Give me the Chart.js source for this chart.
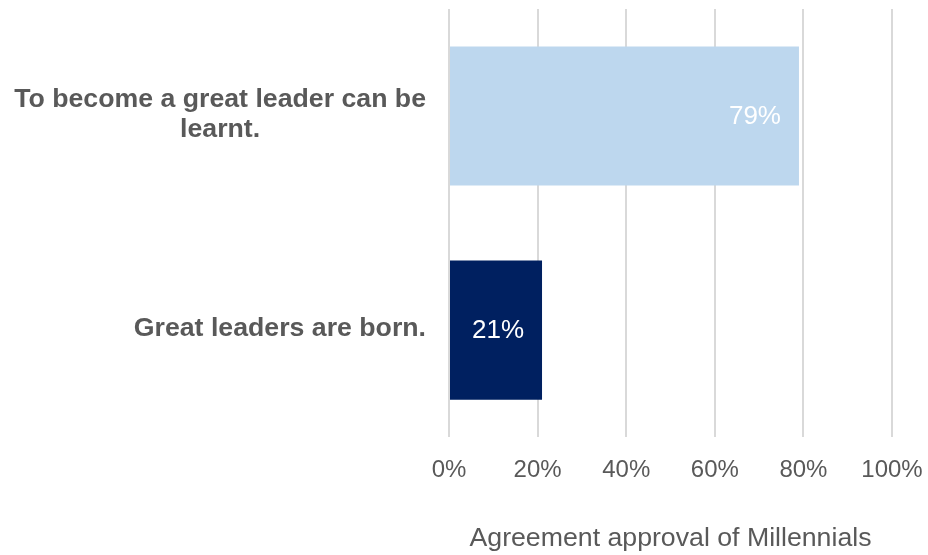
<!DOCTYPE html>
<html>
<head>
<meta charset="utf-8">
<script src="https://cdn.jsdelivr.net/npm/chart.js@4"></script>
<style>
  body { margin: 0; background: #fff; }
</style>
</head>
<body>
<canvas id="barChart" width="928" height="555"></canvas>
<script>
const categories = [
  ['To become a great leader can be', 'learnt.'],
  ['Great leaders are born.']
];
const agreement = [79, 21];
const barColors = ['#BDD7EE', '#002060'];
const xTicks = [0, 20, 40, 60, 80, 100];

const FONT = '"Liberation Sans", Arial, sans-serif';
const GREY = '#595959';
const LABEL_GAP = 23;

// category labels: lines centred on each other, block right-aligned to the axis
const categoryLabels = {
  id: 'categoryLabels',
  afterDraw(chart) {
    const ctx = chart.ctx;
    const y = chart.scales.y;
    const lh = 30;
    ctx.save();
    ctx.font = 'bold 26.7px ' + FONT;
    ctx.fillStyle = GREY;
    ctx.textAlign = 'center';
    ctx.textBaseline = 'middle';
    chart.data.labels.forEach((lines, i) => {
      const w = Math.max(...lines.map(l => ctx.measureText(l).width));
      const cx = y.right - LABEL_GAP - w / 2;
      const cy = y.getPixelForTick(i) - (lines.length - 1) * lh / 2 - 1;
      lines.forEach((l, k) => ctx.fillText(l, cx, cy + k * lh));
    });
    ctx.restore();
  }
};

// value labels inside the end of each bar
const valueLabels = {
  id: 'valueLabels',
  afterDatasetsDraw(chart) {
    const ctx = chart.ctx;
    const meta = chart.getDatasetMeta(0);
    ctx.save();
    ctx.font = '26px ' + FONT;
    ctx.fillStyle = '#fff';
    ctx.textAlign = 'right';
    ctx.textBaseline = 'middle';
    meta.data.forEach((bar, i) => {
      ctx.fillText(agreement[i] + '%', bar.x - 18, bar.y + 1);
    });
    ctx.restore();
  }
};

new Chart(document.getElementById('barChart'), {
  type: 'bar',
  data: {
    labels: categories,
    datasets: [{
      data: agreement,
      backgroundColor: barColors,
      barPercentage: 0.65,
      categoryPercentage: 1
    }]
  },
  plugins: [categoryLabels, valueLabels],
  options: {
    indexAxis: 'y',
    responsive: false,
    animation: false,
    layout: { padding: { top: 9, left: 0, right: 0, bottom: 0 } },
    plugins: {
      legend: { display: false },
      tooltip: { enabled: false }
    },
    scales: {
      x: {
        min: 0,
        max: 100,
        afterBuildTicks: scale => { scale.ticks = xTicks.map(v => ({ value: v })); },
        afterFit: scale => { scale.paddingRight = 36; scale.paddingLeft = 0; },
        border: { display: false },
        grid: { color: '#D9D9D9', lineWidth: 2, drawTicks: false },
        ticks: {
          padding: 19,
          color: GREY,
          font: { family: FONT, size: 24 },
          callback: v => v + '%'
        },
        title: {
          display: true,
          text: 'Agreement approval of Millennials',
          color: GREY,
          font: { family: FONT, size: 26.7 },
          padding: { top: 19, bottom: 0 }
        }
      },
      y: {
        afterFit: scale => { scale.width = 449; },
        border: { display: false },
        grid: { display: false, drawTicks: false },
        ticks: { display: false }
      }
    }
  }
});
</script>
</body>
</html>
